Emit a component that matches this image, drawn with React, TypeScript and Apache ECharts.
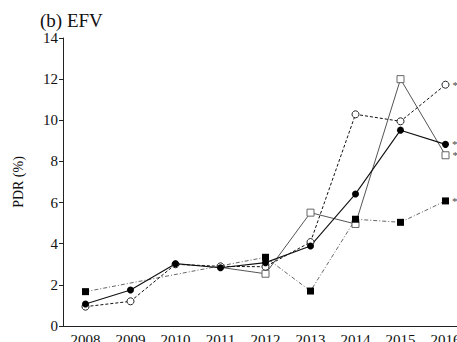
import React, { useEffect, useRef } from "react";
import * as echarts from "echarts";

const years = ["2008", "2009", "2010", "2011", "2012", "2013", "2014", "2015", "2016"];
// PDR (%) series
const filledCircle = [1.07, 1.75, 3.03, 2.83, 3.08, 3.89, 6.42, 9.52, 8.83];
const openCircle = [0.94, 1.2, 3.0, 2.9, 2.88, 4.08, 10.29, 9.95, 11.73];
const openSquare: (number | null)[] = [null, null, null, 2.85, 2.54, 5.51, 4.96, 12.0, 8.3];
const filledSquare: (number | null)[] = [1.67, null, null, null, 3.34, 1.7, 5.19, 5.04, 6.08];
const yTicks = [0, 2, 4, 6, 8, 10, 12, 14];

const FONT = "Times New Roman, Times, Tinos, Nimbus Roman";

function withStar(arr: (number | null)[], hideFirst = false) {
  return arr.map((v, i) => {
    if (v === null) return null;
    const item: any = { value: v };
    if (i === arr.length - 1) {
      item.label = {
        show: true,
        position: "right",
        formatter: "*",
        distance: 3,
        fontSize: 11,
        color: "#444",
        fontFamily: FONT,
      };
    }
    if (hideFirst && i === arr.findIndex((x) => x !== null)) item.symbol = "none";
    return item;
  });
}

export default function App() {
  const ref = useRef<HTMLDivElement>(null);
  useEffect(() => {
    if (!ref.current) return;
    const chart = echarts.init(ref.current, undefined, { renderer: "svg" });
    chart.setOption({
      animation: false,
      backgroundColor: "#fff",
      textStyle: { fontFamily: FONT },
      title: {
        text: "(b) EFV",
        left: 35,
        top: 6,
        textStyle: { fontFamily: FONT, fontSize: 19, fontWeight: "normal", color: "#111" },
      },
      grid: {
        left: 63,
        width: 405,
        top: 38,
        height: 288,
        containLabel: false,
        outerBoundsMode: "none",
      },
      xAxis: {
        type: "category",
        data: years,
        boundaryGap: true,
        axisLine: { lineStyle: { color: "#222", width: 1 } },
        axisTick: { alignWithLabel: true, length: 5, lineStyle: { color: "#222" } },
        axisLabel: { fontFamily: FONT, fontSize: 15, color: "#111", margin: 6, interval: 0 },
      },
      yAxis: {
        type: "value",
        min: 0,
        max: 14,
        interval: 2,
        name: "PDR (%)",
        nameLocation: "middle",
        nameGap: 38,
        nameRotate: 90,
        nameTextStyle: { fontFamily: FONT, fontSize: 14, color: "#111" },
        axisLine: { show: true, lineStyle: { color: "#222", width: 1 } },
        axisTick: { show: true, length: 4, lineStyle: { color: "#222" } },
        splitLine: { show: false },
        axisLabel: {
          fontFamily: FONT,
          fontSize: 15,
          color: "#111",
          margin: 5,
          formatter: (v: number) => (yTicks.includes(v) ? String(v) : ""),
        },
      },
      series: [
        {
          name: "open square",
          type: "line",
          data: withStar(openSquare, true),
          symbol: "rect",
          symbolSize: 7,
          connectNulls: false,
          lineStyle: { color: "#555", width: 1, type: "solid" },
          itemStyle: { color: "#fff", borderColor: "#666", borderWidth: 1 },
        },
        {
          name: "filled square",
          type: "line",
          data: withStar(filledSquare),
          symbol: "rect",
          symbolSize: 7,
          connectNulls: true,
          lineStyle: { color: "#666", width: 1, type: [4, 2, 1, 2] },
          itemStyle: { color: "#000", borderColor: "#000", borderWidth: 0 },
        },
        {
          name: "open circle",
          type: "line",
          data: withStar(openCircle),
          symbol: "circle",
          symbolSize: 7,
          lineStyle: { color: "#111", width: 1, type: [3, 2] },
          itemStyle: { color: "#fff", borderColor: "#222", borderWidth: 1 },
        },
        {
          name: "filled circle",
          type: "line",
          data: withStar(filledCircle),
          symbol: "circle",
          symbolSize: 7,
          lineStyle: { color: "#111", width: 1.1, type: "solid" },
          itemStyle: { color: "#000", borderColor: "#000", borderWidth: 0 },
        },
      ],
    });
    return () => chart.dispose();
  }, []);
  return <div ref={ref} style={{ position: "absolute", left: 0, top: 0, width: 457, height: 342 }} />;
}
